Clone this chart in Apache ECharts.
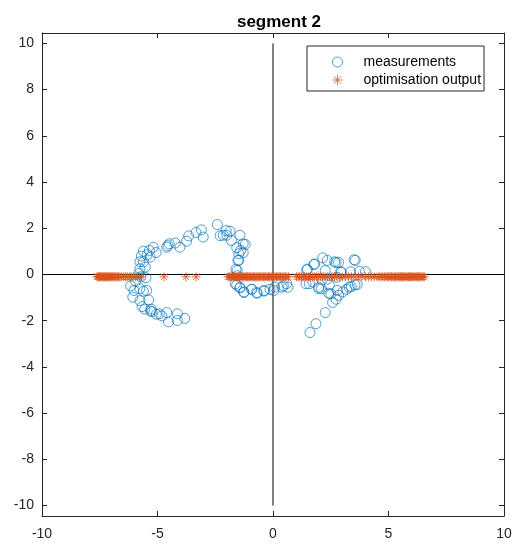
<!DOCTYPE html>
<html>
<head>
<meta charset="utf-8">
<script src="https://cdn.jsdelivr.net/npm/echarts@6/dist/echarts.min.js"></script>
<style>
  html, body { margin: 0; padding: 0; background: #fff; }
  #chart { width: 517px; height: 544px; }
</style>
</head>
<body>
<div id="chart"></div>
<script>
// Measured positions (x, y)
const measX = [
  -3.82,-4.14,-4.14,-4.52,-4.60,-4.81,-4.92,-5.05,-5.24,-5.27,-5.30,-5.55,-5.67,-5.76,-5.38,-5.47,-5.61,-5.76,-6.07,-6.02,
  -6.16,-5.95,-5.50,-5.72,-5.80,-5.76,-5.53,-5.76,-5.61,-5.32,-5.61,-5.35,-5.06,-5.18,-5.45,-5.70,
  -4.60,-4.49,-4.55,-4.23,-4.03,-3.74,-3.65,-3.33,-3.10,-3.02,-2.41,-2.29,-2.15,-2.03,-2.00,-1.86,-1.80,-1.43,-1.57,-1.29,
  -1.20,-1.40,-1.29,-1.48,-1.52,-1.48,-1.55,-1.60,-1.55,
  -1.63,-1.57,-1.43,-1.43,-1.26,-1.26,-0.94,-0.91,-0.71,-0.68,-0.39,-0.39,-0.13,0.07,0.39,0.45,0.65,0.59,0.04,
  1.43,1.57,1.72,1.98,1.98,2.10,2.35,2.44,2.41,2.50,2.78,3.02,3.19,3.39,3.65,3.55,3.30,2.84,2.73,2.58,
  2.26,1.86,1.60,1.49,1.46,1.80,1.77,2.15,2.35,2.26,2.67,2.73,2.84,3.51,3.56,2.76,2.93,2.96,3.36,3.74,4.00
];
const measY = [
  -1.90,-1.99,-1.70,-2.05,-1.65,-1.79,-1.70,-1.72,-1.61,-1.50,-1.58,-1.50,-1.39,-1.13,-1.10,-0.69,-0.72,-0.61,-0.98,-0.69,
  -0.49,-0.30,-0.14,-0.10,0.05,0.25,0.32,0.55,0.55,0.75,1.01,1.04,0.95,1.18,0.85,0.80,
  1.18,1.33,1.25,1.36,1.18,1.44,1.67,1.82,1.93,1.62,2.16,1.68,1.70,1.90,1.70,1.87,1.47,1.70,1.16,1.33,
  1.30,1.04,0.95,0.90,0.61,0.61,0.17,0.23,-0.05,
  -0.40,-0.46,-0.55,-0.58,-0.75,-0.78,-0.64,-0.64,-0.78,-0.81,-0.72,-0.69,-0.64,-0.55,-0.55,-0.49,-0.55,-0.40,-0.69,
  -0.40,-0.40,-0.32,-0.55,-0.61,-0.62,-0.20,-0.46,-0.81,-0.84,-0.69,-0.75,-0.64,-0.52,-0.43,-0.45,-0.55,-0.90,-1.07,-1.21,
  -1.65,-2.13,-2.51,0.23,0.20,0.46,0.43,0.72,0.61,0.17,0.55,0.52,0.52,0.64,0.61,-0.12,0.12,0.09,0.12,0.14,0.12
];

// Optimisation output: x positions, all lying at y = optY
const optX = [
  -7.62,-7.58,-7.55,-7.51,-7.47,-7.44,-7.40,-7.36,-7.33,-7.29,-7.25,-7.21,-7.17,-7.13,-7.09,-7.05,-7.01,-6.97,-6.93,-6.88,
  -6.84,-6.79,-6.74,-6.69,-6.63,-6.55,-6.46,-6.38,-6.31,-6.22,-6.14,-6.05,-5.96,-5.87,-5.78,-5.68,-4.72,-3.77,-3.33,
  -1.95,-1.90,-1.86,-1.81,-1.77,-1.72,-1.67,-1.63,-1.58,-1.53,-1.49,-1.44,-1.39,-1.34,-1.30,-1.25,-1.20,-1.15,-1.10,-1.05,
  -1.00,-0.95,-0.90,-0.85,-0.80,-0.74,-0.69,-0.64,-0.58,-0.53,-0.47,-0.42,-0.36,-0.31,-0.25,-0.19,-0.14,-0.08,-0.03,0.03,
  0.09,0.15,0.21,0.27,0.33,0.39,0.46,0.53,0.60,0.67,
  1.02,1.09,1.16,1.23,1.31,1.38,1.46,1.54,1.62,1.70,1.79,1.88,1.97,2.06,2.15,2.25,2.35,2.45,2.55,2.66,
  2.77,2.88,3.00,3.13,3.26,3.40,3.55,3.70,3.85,4.00,4.14,4.27,4.39,4.50,
  4.60,4.68,4.75,4.82,4.89,4.95,5.01,5.07,5.13,5.19,5.25,5.30,5.36,5.41,5.46,5.51,5.56,5.61,5.66,5.71,
  5.76,5.81,5.86,5.91,5.95,6.00,6.05,6.10,6.15,6.20,6.25,6.30,6.35,6.40,6.45,6.50,6.55
];
const optY = -0.1;

// Reference cross through the origin
const crossSpan = [-10, 10];

// Axis ticks
const xTicks = [-10, -5, 0, 5, 10];
const yTicks = [-10, -8, -6, -4, -2, 0, 2, 4, 6, 8, 10];
const xRange = [-10, 10];
const yRange = [-10.45, 10.45];

const measData = measX.map((x, i) => [x, measY[i]]);
const optData = optX.map(x => [x, optY]);

const AXIS_COL = '#262626';
const FONT = 'Liberation Sans, Arial, Helvetica, sans-serif';
const asterisk = 'path://M0 5 L10 5 M5 0 L5 10 M1.5 1.5 L8.5 8.5 M1.5 8.5 L8.5 1.5';

function xAxisDef(pos, labels) {
  return {
    type: 'value', position: pos, min: xRange[0], max: xRange[1],
    axisLine: { show: true, onZero: false, lineStyle: { color: AXIS_COL, width: 1 } },
    axisTick: { show: true, inside: true, length: 5, customValues: xTicks, lineStyle: { color: AXIS_COL } },
    axisLabel: { show: labels, customValues: xTicks, margin: 11, color: AXIS_COL, fontFamily: FONT, fontSize: 14 },
    splitLine: { show: false }
  };
}
function yAxisDef(pos, labels) {
  return {
    type: 'value', position: pos, min: yRange[0], max: yRange[1],
    axisLine: { show: true, onZero: false, lineStyle: { color: AXIS_COL, width: 1 } },
    axisTick: { show: true, inside: true, length: 5, customValues: yTicks, lineStyle: { color: AXIS_COL } },
    axisLabel: { show: labels, customValues: yTicks, margin: 8, color: AXIS_COL, fontFamily: FONT, fontSize: 14 },
    splitLine: { show: false }
  };
}

const chart = echarts.init(document.getElementById('chart'), null, { renderer: 'canvas' });
chart.setOption({
  backgroundColor: '#fff',
  animation: false,
  title: {
    text: 'segment 2', left: 274, top: 9, textAlign: 'center',
    textStyle: { fontFamily: FONT, fontSize: 17, fontWeight: 'bold', color: '#000' }
  },
  grid: { left: 42, right: 13, top: 33, bottom: 28 },
  xAxis: [xAxisDef('bottom', true), xAxisDef('top', false)],
  yAxis: [yAxisDef('left', true), yAxisDef('right', false)],
  legend: {
    left: 307, top: 46, orient: 'vertical',
    padding: [9, 3, 4, 25],
    itemWidth: 10, itemHeight: 10, itemGap: 4,
    backgroundColor: '#fff', borderColor: AXIS_COL, borderWidth: 1, borderRadius: 0,
    itemStyle: { borderWidth: 1 },
    textStyle: { fontFamily: FONT, fontSize: 14, color: '#000', lineHeight: 10, padding: [0, 0, 0, 16] },
    data: ['measurements', 'optimisation output']
  },
  series: [
    {
      type: 'line', data: crossSpan.map(v => [v, 0]), symbol: 'none', silent: true,
      lineStyle: { color: '#000', width: 1 }, z: 1
    },
    {
      type: 'line', data: crossSpan.map(v => [0, v]), symbol: 'none', silent: true,
      lineStyle: { color: '#000', width: 1 }, z: 1
    },
    {
      name: 'measurements', type: 'scatter', data: measData,
      symbol: 'circle', symbolSize: 10, z: 2,
      itemStyle: { color: 'rgba(0,0,0,0)', borderColor: 'rgba(0,114,189,0.85)', borderWidth: 1 }
    },
    {
      name: 'optimisation output', type: 'scatter', data: optData,
      symbol: asterisk, symbolSize: 9, z: 3,
      itemStyle: { color: 'rgba(0,0,0,0)', borderColor: '#D95319', borderWidth: 1 }
    }
  ]
});
</script>
</body>
</html>
